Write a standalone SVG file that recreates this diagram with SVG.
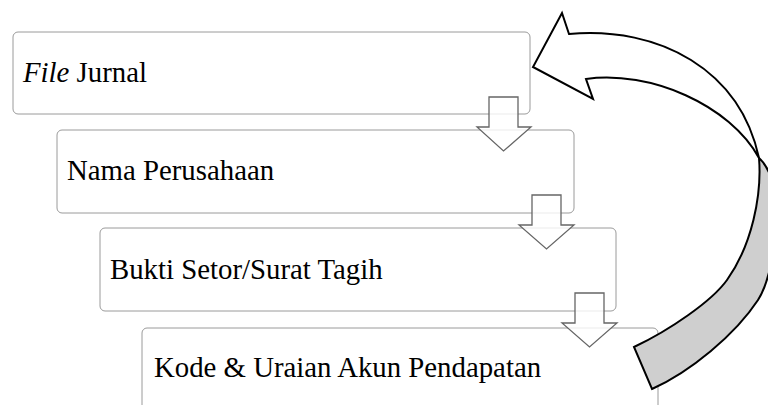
<svg xmlns="http://www.w3.org/2000/svg" width="768" height="405" viewBox="0 0 768 405">
<style>
.box{fill:#fff;stroke:#9a9a9a;stroke-width:1}
.lbl{font-family:"Liberation Serif","Times New Roman",serif;font-size:28.8px;fill:#000}
.down{fill:#fff;fill-opacity:0.8;stroke:#666;stroke-width:1.3;stroke-linejoin:miter}
.curve{stroke:#000;stroke-width:2;stroke-linejoin:miter}
</style>
<rect width="768" height="405" fill="#fff"/>
<g id="node1"><rect class="box" x="13" y="32" width="517" height="82" rx="5"/><text class="lbl" x="23" y="82"><tspan font-style="italic">File</tspan> Jurnal</text></g>
<g id="node2"><rect class="box" x="57" y="130" width="517" height="83" rx="5"/><text class="lbl" x="67" y="180">Nama Perusahaan</text></g>
<g id="node3"><rect class="box" x="100" y="228" width="516" height="83" rx="5"/><text class="lbl" x="110" y="279">Bukti Setor/Surat Tagih</text></g>
<g id="node4"><rect class="box" x="142" y="328" width="516" height="83" rx="5"/><text class="lbl" x="154" y="377">Kode &amp; Uraian Akun Pendapatan</text></g>
<g id="connectors">
<path class="down" d="M489,97 H518 V127 H531 L503.5,151 L477,127 H489 Z"/>
<path class="down" d="M532,195 H561 V225 H574 L546.5,249 L519,225 H532 Z"/>
<path class="down" d="M575,293 H604 V323 H617 L589.5,347 L562,323 H575 Z"/>
<path class="curve" fill="#cfcfcf" d="M759,158 C762,195 752,245 727,280 C712,301 670,330 634,347 L652,389 C690,372 735,335 758,300 C768,285 776,250 776,215 C776,185 770,168 759,158 Z"/>
<path class="curve" fill="#fff" d="M569,34 L562,13 L533,67 L593,99 L586,79 C650,70 730,105 759,158 C740,70 660,26 569,34 Z"/>
</g>
</svg>
